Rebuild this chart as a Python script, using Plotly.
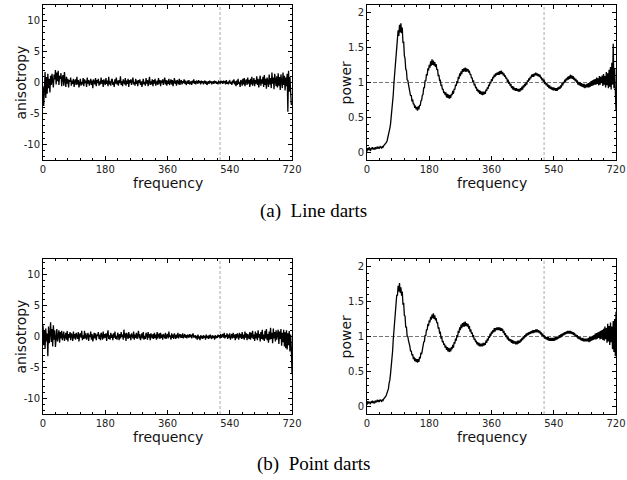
import plotly.graph_objects as go

# frequency grid (step 2, 0..720)
freq = [2 * i for i in range(361)]

aniso_line = [
    -0.6, -3.8, -1.2, 1.7, -2.5, 0.9, -1.8, 1.4, -0.9, 0.6,
    -1.6, 1.1, -0.4, 1.4, 0.2, -0.8, 1.3, 0.5, 2.0, -0.3,
    1.6, 0.2, 1.9, -0.4, 1.1, 0.6, 1.5, -0.6, 0.8, 1.2,
    -0.5, 1.7, 0.3, -0.7, 0.9, -0.2, 0.6, -0.8, 0.4, 0.1,
    0.8, -0.5, 0.3, -0.2, 0.6, -0.7, 0.2, 0.5, -0.4, 0.9,
    -0.3, 0.4, -0.8, 0.2, 0.6, -0.5, 0.1, -0.3, 0.7, -0.6,
    0.5, -0.1, 0.3, -0.7, 0.8, -0.2, 0.4, -0.5, 0.2, 0.6,
    -0.4, 0.3, -0.9, 0.5, 0.1, -0.3, 0.7, -0.6, 0.4, -0.1,
    0.6, -0.5, 0.2, -0.3, 0.8, -0.2, 0.4, -0.7, 0.5, 0.1,
    -0.4, 0.7, -0.2, 0.3, -0.6, 0.9, -0.3, 0.2, -0.5, 0.4,
    0.6, -0.4, 0.1, -0.7, 0.5, -0.2, 0.8, -0.3, 0.3, -0.5,
    0.4, -0.1, 1.0, -0.4, 0.2, -0.6, 0.5, 0.1, -0.3, 0.7,
    -0.5, 0.3, -0.2, 0.6, -0.7, 0.4, -0.1, 0.5, -0.4, 0.2,
    0.8, -0.3, 0.1, -0.5, 0.6, -0.2, 0.3, -0.6, 0.4, -0.1,
    0.5, -0.4, 0.2, -0.7, 0.3, 0.6, -0.3, 0.1, -0.5, 0.7,
    -0.2, 0.4, -0.6, 0.3, 0.9, -0.4, 0.2, -0.3, 0.5, -0.6,
    0.4, -0.2, 0.6, -0.5, 0.2, 0.3, -0.4, 0.7, -0.2, 0.4,
    -0.6, 0.3, -0.1, 0.5, -0.4, 0.2, 0.8, -0.3, 0.4, -0.5,
    0.3, -0.2, 0.6, -0.4, 0.1, 0.5, -0.3, 0.4, -0.6, 0.2,
    0.7, -0.2, 0.3, -0.5, 0.4, 0.1, -0.3, 0.6, -0.4, 0.2,
    0.4, -0.3, 0.2, -0.1, 0.5, -0.2, 0.3, -0.4, 0.1, 0.3,
    -0.2, 0.4, -0.3, 0.1, 0.2, -0.4, 0.3, -0.1, 0.5, -0.2,
    0.2, -0.3, 0.3, 0.1, -0.2, 0.4, -0.1, 0.2, -0.3, 0.3,
    -0.1, 0.2, -0.3, 0.1, 0.3, -0.2, 0.2, -0.4, 0.1, 0.2,
    -0.2, 0.3, -0.1, 0.2, -0.3, 0.1, 0.2, -0.2, 0.3, -0.1,
    0.2, -0.2, 0.1, -0.3, 0.2, 0.1, -0.2, 0.3, -0.1, 0.2,
    -0.2, 0.3, -0.1, 0.2, -0.3, 0.4, -0.2, 0.1, -0.3, 0.2,
    0.3, -0.2, 0.1, -0.4, 0.3, -0.1, 0.5, -0.3, 0.2, -0.6,
    0.3, -0.4, 0.6, -0.2, 0.1, -0.7, 0.4, 0.2, -0.5, 0.6,
    -0.3, 0.7, -0.6, 0.2, 0.5, -0.4, 0.8, -0.2, 0.4, -0.7,
    0.6, -0.3, 0.9, -0.5, 0.2, 0.7, -0.6, 0.4, -0.2, 1.0,
    -0.4, 0.6, -0.8, 0.3, 1.1, -0.5, 0.5, -0.2, 0.9, -0.7,
    1.2, -0.4, 0.6, -1.0, 0.8, 0.2, -0.7, 1.3, -0.3, 0.7,
    -0.9, 1.6, -0.2, 0.8, -1.1, 1.4, 0.3, -0.6, 1.0, -0.8,
    1.5, -0.5, 0.9, -1.2, 1.3, 0.2, -0.9, 1.6, -0.4, 1.1,
    -1.3, 0.8, -0.6, 1.4, -4.7, 1.9, -1.5, 0.9, -2.0, -3.6,
    -3.4,
]

power_line = [
    0.02, 0.07, 0.04, 0.08, 0.05, 0.03, 0.07, 0.06, 0.08, 0.05,
    0.07, 0.05, 0.08, 0.06, 0.07, 0.09, 0.06, 0.08, 0.07, 0.09,
    0.08, 0.07, 0.09, 0.08, 0.10, 0.11, 0.12, 0.13, 0.15, 0.17,
    0.21, 0.24, 0.31, 0.35, 0.41, 0.51, 0.58, 0.71, 0.83, 1.00,
    1.13, 1.31, 1.37, 1.55, 1.58, 1.74, 1.66, 1.82, 1.71, 1.84,
    1.70, 1.78, 1.56, 1.58, 1.38, 1.34, 1.19, 1.17, 1.04, 1.03,
    0.97, 0.90, 0.89, 0.81, 0.82, 0.73, 0.76, 0.69, 0.70, 0.64,
    0.67, 0.62, 0.65, 0.60, 0.66, 0.62, 0.68, 0.67, 0.74, 0.75,
    0.82, 0.83, 0.93, 0.92, 1.03, 1.02, 1.12, 1.10, 1.20, 1.17,
    1.25, 1.21, 1.30, 1.24, 1.33, 1.25, 1.31, 1.24, 1.29, 1.22,
    1.26, 1.18, 1.19, 1.09, 1.11, 1.02, 1.04, 0.95, 0.97, 0.90,
    0.91, 0.85, 0.87, 0.82, 0.86, 0.79, 0.84, 0.78, 0.83, 0.77,
    0.82, 0.78, 0.84, 0.82, 0.88, 0.84, 0.91, 0.90, 0.97, 0.95,
    1.02, 0.99, 1.08, 1.05, 1.13, 1.09, 1.16, 1.12, 1.19, 1.15,
    1.20, 1.16, 1.21, 1.15, 1.20, 1.16, 1.19, 1.14, 1.17, 1.11,
    1.12, 1.06, 1.07, 1.01, 1.03, 0.96, 0.98, 0.92, 0.94, 0.88,
    0.91, 0.86, 0.89, 0.84, 0.88, 0.83, 0.87, 0.82, 0.87, 0.83,
    0.87, 0.84, 0.90, 0.88, 0.93, 0.91, 0.97, 0.95, 1.01, 0.99,
    1.05, 1.02, 1.08, 1.06, 1.11, 1.08, 1.13, 1.10, 1.14, 1.11,
    1.15, 1.11, 1.16, 1.12, 1.17, 1.12, 1.15, 1.10, 1.13, 1.08,
    1.10, 1.05, 1.07, 1.01, 1.04, 0.98, 1.01, 0.95, 0.98, 0.92,
    0.95, 0.90, 0.94, 0.89, 0.92, 0.88, 0.92, 0.88, 0.91, 0.87,
    0.91, 0.87, 0.92, 0.89, 0.94, 0.90, 0.96, 0.93, 0.98, 0.95,
    1.00, 0.97, 1.03, 1.01, 1.06, 1.03, 1.08, 1.06, 1.11, 1.08,
    1.12, 1.08, 1.13, 1.10, 1.14, 1.10, 1.13, 1.09, 1.12, 1.08,
    1.11, 1.06, 1.08, 1.03, 1.06, 1.01, 1.04, 0.98, 1.01, 0.96,
    0.99, 0.94, 0.97, 0.92, 0.96, 0.91, 0.94, 0.90, 0.93, 0.89,
    0.93, 0.89, 0.92, 0.88, 0.92, 0.88, 0.93, 0.90, 0.94, 0.91,
    0.96, 0.93, 0.99, 0.96, 1.01, 0.99, 1.04, 1.01, 1.06, 1.03,
    1.08, 1.04, 1.09, 1.05, 1.11, 1.06, 1.10, 1.05, 1.09, 1.04,
    1.07, 1.02, 1.05, 1.00, 1.03, 0.97, 1.01, 0.96, 1.00, 0.95,
    0.99, 0.94, 0.98, 0.93, 0.98, 0.92, 0.97, 0.93, 0.98, 0.93,
    0.99, 0.93, 1.00, 0.94, 1.02, 0.95, 1.03, 0.96, 1.04, 0.97,
    1.05, 0.97, 1.07, 0.98, 1.06, 0.96, 1.09, 0.97, 1.08, 0.99,
    1.10, 0.95, 1.12, 0.97, 1.09, 0.93, 1.15, 0.96, 1.13, 0.92,
    1.18, 0.94, 1.22, 0.90, 1.28, 0.97, 1.55, 0.92, 1.20, 0.75,
    0.60,
]

aniso_point = [
    1.8, -1.4, 0.9, -2.0, 1.3, -0.8, 0.5, -3.2, 1.6, -1.1,
    0.4, 2.3, -0.9, 1.2, -1.6, 1.8, -0.5, 1.0, -1.7, 0.6,
    1.2, -0.8, 0.4, 1.0, -1.0, 0.7, -0.3, 0.9, -0.6, 0.2,
    0.8, -0.7, 0.3, 0.6, -0.5, 0.9, -0.8, 0.4, -0.2, 0.7,
    -0.6, 0.5, 0.2, -0.7, 0.8, -0.3, 0.4, -0.5, 0.6, 0.1,
    -0.4, 0.7, -0.8, 0.3, 0.5, -0.2, 0.9, -0.6, 0.2, -0.4,
    0.9, -0.3, 0.5, -0.5, 0.2, 0.6, -0.7, 0.3, -0.1, 0.8,
    -0.5, 0.4, -0.8, 0.2, 0.6, -0.3, 0.5, -0.6, 0.3, 0.1,
    0.7, -0.4, 0.3, -0.6, 0.6, 0.2, -0.5, 0.8, -0.3, 0.4,
    -0.2, 0.5, -0.7, 0.3, 1.0, -0.4, 0.2, -0.5, 0.6, -0.2,
    0.3, -0.6, 0.5, -0.2, 0.8, -0.4, 0.1, -0.5, 0.6, 0.2,
    -0.6, 0.4, -0.3, 0.7, -0.1, 0.3, -0.5, 1.1, -0.2, 0.5,
    -0.7, 0.6, 0.1, -0.4, 0.7, -0.2, 0.3, -0.6, 0.5, 0.2,
    -0.3, 0.8, -0.5, 0.3, -0.2, 0.6, -0.4, 0.2, 0.9, -0.3,
    0.4, -0.6, 0.2, 0.5, -0.3, 0.7, -0.5, 0.1, -0.4, 0.6,
    0.3, -0.5, 0.7, -0.2, 0.4, -0.6, 0.5, 0.1, -0.3, 0.4,
    -0.4, 0.6, -0.2, 0.3, -0.5, 0.7, -0.3, 0.2, 0.5, -0.4,
    0.6, -0.2, 0.3, -0.5, 0.4, 0.1, -0.3, 0.6, -0.4, 0.2,
    0.4, -0.3, 0.8, -0.1, 0.2, -0.5, 0.5, -0.2, 0.3, -0.4,
    0.5, 0.1, -0.4, 0.3, -0.2, 0.6, -0.3, 0.2, 0.4, -0.2,
    0.3, -0.2, 0.5, -0.3, 0.1, 0.4, -0.2, 0.2, -0.3, 0.3,
    0.1, -0.2, 0.4, -0.1, 0.3, -0.3, 0.2, 0.5, -0.2, 0.1,
    0.2, -0.3, 0.1, -0.5, 0.3, -0.2, -0.1, -0.6, 0.2, -0.3,
    0.1, -0.4, 0.2, -0.2, 0.1, -0.5, 0.3, -0.2, 0.1, -0.4,
    0.2, -0.3, 0.3, -0.1, -0.4, 0.2, -0.2, 0.1, -0.5, 0.2,
    -0.3, 0.1, -0.2, 0.3, -0.1, 0.2, -0.3, 0.4, -0.2, 0.1,
    0.4, -0.2, 0.6, -0.3, 0.2, -0.1, 0.5, -0.4, 0.3, -0.2,
    0.5, -0.5, 0.2, 0.4, -0.3, 0.6, -0.2, 0.3, -0.6, 0.4,
    -0.3, 0.5, 0.1, -0.5, 0.6, -0.2, 0.4, -0.4, 0.7, -0.3,
    0.3, -0.5, 0.8, -0.2, 0.5, -0.6, 0.4, 0.1, -0.4, 0.7,
    -0.5, 0.6, -0.2, 0.9, -0.4, 0.3, -0.7, 0.8, -0.3, 0.5,
    -0.6, 1.0, -0.2, 0.4, -0.8, 0.7, -0.4, 1.1, -0.5, 0.3,
    -0.7, 0.9, -0.3, 1.2, -0.6, 0.4, -1.0, 0.8, -0.5, 1.4,
    -0.4, 0.6, -1.1, 1.3, -0.3, 0.7, -0.8, 1.0, -0.5, 0.4,
    1.1, -1.2, 0.8, -0.4, 1.2, -1.5, 0.6, -0.9, 1.1, -1.6,
    0.7, -1.9, 1.0, -2.1, 0.5, -1.4, 0.9, -2.4, 0.3, -1.8,
    -6.1,
]

power_point = [
    0.03, 0.08, 0.05, 0.07, 0.06, 0.04, 0.08, 0.06, 0.09, 0.06,
    0.07, 0.06, 0.09, 0.07, 0.08, 0.10, 0.07, 0.09, 0.08, 0.10,
    0.09, 0.08, 0.10, 0.09, 0.11, 0.12, 0.13, 0.15, 0.17, 0.20,
    0.24, 0.26, 0.34, 0.38, 0.47, 0.56, 0.69, 0.79, 0.96, 1.08,
    1.20, 1.36, 1.42, 1.59, 1.58, 1.72, 1.64, 1.76, 1.62, 1.70,
    1.58, 1.64, 1.45, 1.48, 1.30, 1.29, 1.13, 1.14, 1.01, 1.00,
    0.94, 0.86, 0.86, 0.79, 0.80, 0.73, 0.75, 0.68, 0.71, 0.65,
    0.69, 0.64, 0.68, 0.63, 0.68, 0.64, 0.71, 0.69, 0.77, 0.75,
    0.82, 0.83, 0.92, 0.93, 1.02, 1.01, 1.10, 1.09, 1.18, 1.15,
    1.23, 1.20, 1.28, 1.24, 1.31, 1.26, 1.33, 1.25, 1.30, 1.23,
    1.26, 1.19, 1.20, 1.11, 1.13, 1.04, 1.07, 0.97, 1.00, 0.92,
    0.94, 0.88, 0.90, 0.84, 0.87, 0.81, 0.85, 0.79, 0.84, 0.78,
    0.83, 0.79, 0.85, 0.82, 0.88, 0.84, 0.92, 0.90, 0.97, 0.94,
    1.02, 0.99, 1.08, 1.05, 1.13, 1.09, 1.17, 1.12, 1.19, 1.14,
    1.20, 1.14, 1.21, 1.15, 1.19, 1.14, 1.18, 1.11, 1.15, 1.07,
    1.10, 1.04, 1.06, 0.99, 1.02, 0.95, 0.97, 0.92, 0.94, 0.89,
    0.92, 0.87, 0.91, 0.86, 0.90, 0.86, 0.90, 0.86, 0.91, 0.87,
    0.91, 0.88, 0.94, 0.91, 0.97, 0.94, 1.00, 0.98, 1.04, 1.01,
    1.07, 1.04, 1.09, 1.06, 1.12, 1.07, 1.12, 1.09, 1.13, 1.09,
    1.13, 1.09, 1.13, 1.08, 1.12, 1.08, 1.11, 1.05, 1.08, 1.02,
    1.05, 0.99, 1.02, 0.96, 0.99, 0.94, 0.97, 0.93, 0.96, 0.91,
    0.95, 0.90, 0.94, 0.90, 0.93, 0.89, 0.93, 0.89, 0.94, 0.90,
    0.94, 0.91, 0.96, 0.93, 0.98, 0.95, 1.00, 0.97, 1.02, 0.99,
    1.04, 1.01, 1.05, 1.02, 1.06, 1.03, 1.07, 1.04, 1.08, 1.05,
    1.09, 1.05, 1.09, 1.06, 1.10, 1.06, 1.10, 1.06, 1.09, 1.05,
    1.08, 1.03, 1.06, 1.01, 1.04, 0.99, 1.02, 0.97, 1.00, 0.96,
    0.99, 0.95, 0.99, 0.94, 0.98, 0.94, 0.98, 0.94, 0.98, 0.94,
    0.98, 0.94, 0.99, 0.95, 0.99, 0.96, 1.00, 0.97, 1.02, 0.98,
    1.03, 0.99, 1.04, 1.01, 1.05, 1.02, 1.06, 1.03, 1.07, 1.04,
    1.08, 1.04, 1.08, 1.04, 1.08, 1.04, 1.07, 1.03, 1.06, 1.02,
    1.05, 1.00, 1.03, 0.99, 1.02, 0.97, 1.00, 0.96, 0.99, 0.95,
    0.98, 0.94, 0.98, 0.93, 0.97, 0.93, 0.97, 0.93, 0.97, 0.93,
    0.98, 0.92, 0.99, 0.93, 0.99, 0.94, 1.01, 0.95, 1.02, 0.96,
    1.04, 0.96, 1.05, 0.97, 1.06, 0.98, 1.07, 0.96, 1.08, 0.97,
    1.09, 0.95, 1.11, 0.94, 1.14, 0.96, 1.12, 0.91, 1.18, 0.93,
    1.15, 0.88, 1.20, 0.92, 1.14, 0.82, 1.22, 0.78, 1.25, 0.72,
    1.35,
]

x_ticks = [0, 180, 360, 540, 720]
aniso_ticks = [-10, -5, 0, 5, 10]
power_ticks = [0, 0.5, 1, 1.5, 2]
power_ticktext = ["0", "0.5", "1", "1.5", "2"]
cutoff = 512
captions = ["(a)\u00a0\u00a0Line darts", "(b)\u00a0\u00a0Point darts"]

W, H = 627, 480


def px(x):
    return x / W


def py(y):
    return 1 - y / H


panels = [
    # (xaxis id, yaxis id, x px range, y px range, data, kind)
    ("x", "y", (43, 292), (5, 160), aniso_line, "aniso"),
    ("x2", "y2", (367, 616), (5, 160), power_line, "power"),
    ("x3", "y3", (43, 292), (259, 414), aniso_point, "aniso"),
    ("x4", "y4", (367, 616), (259, 414), power_point, "power"),
]

fig = go.Figure()
tickfont = dict(family="DejaVu Sans", size=10, color="#222222")
titlefont = dict(family="DejaVu Sans", size=14, color="#111111")

layout = dict(
    width=W, height=H,
    margin=dict(l=0, r=0, t=0, b=0),
    paper_bgcolor="white", plot_bgcolor="white",
    showlegend=False,
)
shapes = []
annotations = []
for xa, ya, (x0, x1), (y0, y1), data, kind in panels:
    fig.add_trace(go.Scatter(
        x=freq, y=data, mode="lines", xaxis=xa, yaxis=ya,
        line=dict(color="black", width=1.3), hoverinfo="skip",
    ))
    xkey = "xaxis" + xa[1:]
    ykey = "yaxis" + ya[1:]
    layout[xkey] = dict(
        domain=[px(x0), px(x1)], anchor=ya, range=[0, 720], automargin=False,
        tickvals=x_ticks, ticks="inside", ticklen=4, tickcolor="black",
        minor=dict(dtick=36, tick0=0, ticks="inside", ticklen=2, tickcolor="black"),
        showline=True, linecolor="black", linewidth=1, mirror="allticks",
        showgrid=False, zeroline=False, tickfont=tickfont,
    )
    if kind == "aniso":
        yr, yt, ytt, mdt, ttl, tx = [-12.5, 12.5], aniso_ticks, [str(v) for v in aniso_ticks], 1, "anisotropy", 20
    else:
        yr, yt, ytt, mdt, ttl, tx = [-0.1, 2.1], power_ticks, power_ticktext, 0.1, "power", 345
    layout[ykey] = dict(
        domain=[py(y1), py(y0)], anchor=xa, range=yr, automargin=False,
        tickvals=yt, ticktext=ytt, ticks="inside", ticklen=4, tickcolor="black",
        minor=dict(dtick=mdt, tick0=0, ticks="inside", ticklen=2, tickcolor="black"),
        showline=True, linecolor="black", linewidth=1, mirror="allticks",
        showgrid=False, zeroline=False, tickfont=tickfont,
    )
    # axis titles
    annotations.append(dict(text="frequency", xref="paper", yref="paper",
                            x=px((x0 + x1) / 2), y=py(y1 + 23), showarrow=False,
                            font=titlefont, xanchor="center", yanchor="middle"))
    annotations.append(dict(text=ttl, xref="paper", yref="paper", textangle=-90,
                            x=px(tx), y=py((y0 + y1) / 2), showarrow=False,
                            font=titlefont, xanchor="center", yanchor="middle"))
    shapes.append(dict(type="line", xref=xa, yref=ya + " domain", x0=cutoff, x1=cutoff,
                       y0=0, y1=1, layer="below",
                       line=dict(color="#aaaaaa", width=1, dash="3px,2px")))
    if kind == "power":
        shapes.append(dict(type="line", xref=xa + " domain", yref=ya, x0=0, x1=1,
                           y0=1, y1=1, layer="below",
                           line=dict(color="#777777", width=1, dash="4px,2px")))

capfont = dict(family="Liberation Serif", size=19, color="black")
annotations.append(dict(text=captions[0], xref="paper", yref="paper", x=px(313), y=py(211),
                        showarrow=False, font=capfont, xanchor="center", yanchor="middle"))
annotations.append(dict(text=captions[1], xref="paper", yref="paper", x=px(313), y=py(464),
                        showarrow=False, font=capfont, xanchor="center", yanchor="middle"))
layout["shapes"] = shapes
layout["annotations"] = annotations
fig.update_layout(**layout)

# remove the default page margin so the figure sits at the window's top-left corner
fig.write_html("out.html", config={"displayModeBar": False},
               post_script="document.body.style.margin='0';document.body.style.overflow='hidden';")
